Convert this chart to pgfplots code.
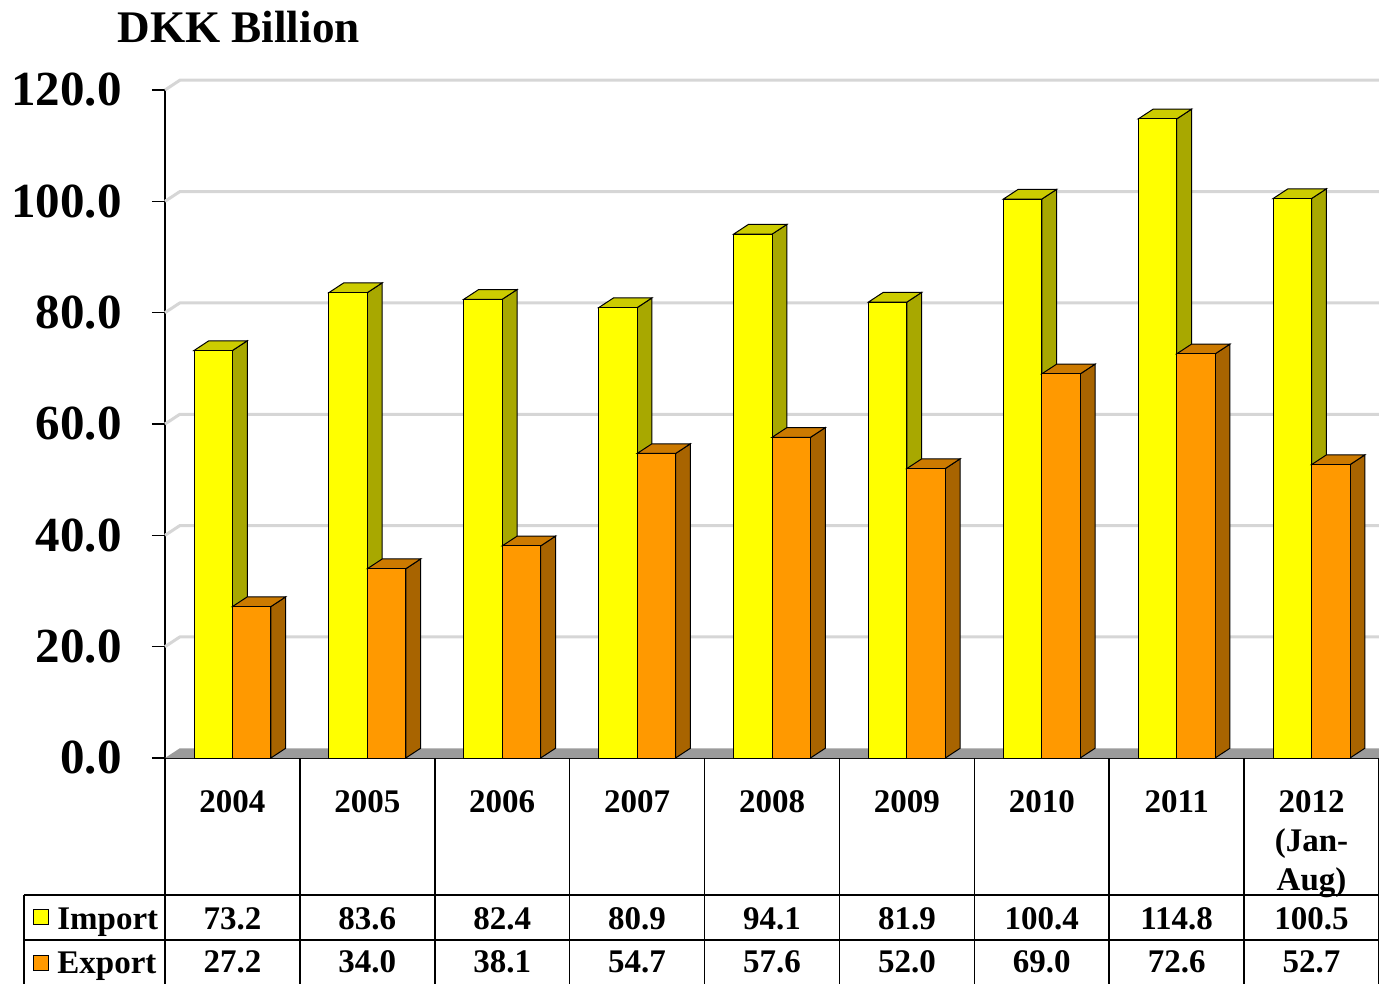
\documentclass[border=0pt]{standalone}
\usepackage{pgfplots}
\usepackage{pgfplotstable}
\pgfplotsset{compat=1.18}
\usepackage{fontspec}
\setmainfont{Liberation Serif}
\definecolor{impfront}{RGB}{255,255,0}
\definecolor{impside}{RGB}{168,168,0}
\definecolor{imptop}{RGB}{204,204,0}
\definecolor{expfront}{RGB}{255,153,0}
\definecolor{expside}{RGB}{168,100,0}
\definecolor{exptop}{RGB}{204,122,0}
\definecolor{floorgray}{RGB}{155,155,155}
\definecolor{gridgray}{RGB}{214,214,214}

\pgfplotstableread{
x imp exp
0 73.2 27.2
1 83.6 34.0
2 82.4 38.1
3 80.9 54.7
4 94.1 57.6
5 81.9 52.0
6 100.4 69.0
7 114.8 72.6
8 100.5 52.7
}\data

\newcommand\tabfont{\fontsize{16.5}{19.5}\selectfont\bfseries}

\begin{document}
\begin{tikzpicture}
\begin{axis}[
  at={(0,0)}, anchor=south west,
  scale only axis, width=607pt, height=334pt,
  xmin=-0.5, xmax=8.5, ymin=0, ymax=120,
  clip=false,
  axis lines*=left,
  axis line style={-, black, line width=0.7pt},
  ytick={0,20,...,120},
  xtick={0,...,8},
  xticklabels={2004,2005,2006,2007,2008,2009,2010,2011,{2012\\(Jan-\\Aug)}},
  tick align=outside,
  major tick length=6.5pt,
  xtick style={draw=none},
  ytick style={black, line width=0.8pt},
  /pgf/number format/fixed,
  /pgf/number format/fixed zerofill,
  /pgf/number format/precision=1,
  /pgf/number format/assume math mode=true,
  yticklabel style={font=\fontsize{24.5}{29}\selectfont\bfseries, anchor=east, inner sep=0pt, xshift=-15pt},
  xticklabel style={font=\tabfont, align=center, anchor=north, inner sep=0pt, yshift=-9.8pt},
]
% floor
\addplot[fill=floorgray, draw=none, mark=none, forget plot] coordinates {(-0.5,0) (8.5,0) (8.5,1.75) (-0.39,1.75)} -- cycle;
% gridlines on back wall
\pgfplotsinvokeforeach{20,40,60,80,100,120}{
  \pgfmathsetmacro\gy{#1+1.75}
  \addplot[gridgray, line width=1.5pt, mark=none, forget plot] coordinates {(-0.5,#1) (-0.39,\gy) (8.5,\gy)};
}
% import bars: side and top faces
\pgfplotsinvokeforeach{0,...,8}{
  \pgfplotstablegetelem{#1}{imp}\of\data
  \let\valI\pgfplotsretval
  \pgfmathsetmacro\vt{\valI+1.75}
  \pgfmathsetmacro\xa{#1}
  \pgfmathsetmacro\xb{#1+0.11}
  \pgfmathsetmacro\xl{#1-0.285}
  \pgfmathsetmacro\xlb{#1-0.175}
  \addplot[fill=impside, draw=black, line width=0.5pt, mark=none, forget plot] coordinates {(\xa,0) (\xb,1.75) (\xb,\vt) (\xa,\valI)} -- cycle;
  \addplot[fill=imptop, draw=black, line width=0.5pt, mark=none, forget plot] coordinates {(\xl,\valI) (\xa,\valI) (\xb,\vt) (\xlb,\vt)} -- cycle;
}
\addplot[ybar, bar width=0.285, bar shift=-0.1425, fill=impfront, draw=black, line width=0.5pt, forget plot] table[x=x, y=imp]{\data};
% export bars: side and top faces
\pgfplotsinvokeforeach{0,...,8}{
  \pgfplotstablegetelem{#1}{exp}\of\data
  \let\valE\pgfplotsretval
  \pgfmathsetmacro\vt{\valE+1.75}
  \pgfmathsetmacro\xa{#1+0.285}
  \pgfmathsetmacro\xb{#1+0.395}
  \pgfmathsetmacro\xl{#1}
  \pgfmathsetmacro\xlb{#1+0.11}
  \addplot[fill=expside, draw=black, line width=0.5pt, mark=none, forget plot] coordinates {(\xa,0) (\xb,1.75) (\xb,\vt) (\xa,\valE)} -- cycle;
  \addplot[fill=exptop, draw=black, line width=0.5pt, mark=none, forget plot] coordinates {(\xl,\valE) (\xa,\valE) (\xb,\vt) (\xlb,\vt)} -- cycle;
}
\addplot[ybar, bar width=0.285, bar shift=0.1425, fill=expfront, draw=black, line width=0.5pt, forget plot] table[x=x, y=exp]{\data};
% table values
\addplot[draw=none, mark=none, forget plot, nodes near coords, point meta=explicit symbolic,
  every node near coord/.append style={anchor=base, inner sep=0pt, font=\tabfont, black}]
  table[x=x, y expr=-30.72, meta=imp]{\data};
\addplot[draw=none, mark=none, forget plot, nodes near coords, point meta=explicit symbolic,
  every node near coord/.append style={anchor=base, inner sep=0pt, font=\tabfont, black}]
  table[x=x, y expr=-38.62, meta=exp]{\data};
\end{axis}
% table grid
\foreach \k in {0,...,9}{
  \draw[black, line width=0.8pt] ({607pt/9*\k},0pt) -- ({607pt/9*\k},-113pt);
}
\draw[black, line width=0.8pt] (-70.5pt,-68.5pt) -- (607pt,-68.5pt);
\draw[black, line width=0.8pt] (-70.5pt,-91pt) -- (607pt,-91pt);
\draw[black, line width=0.8pt] (-70.5pt,-68.5pt) -- (-70.5pt,-113pt);
% legend keys
\node[draw=black, fill=impfront, minimum size=7.5pt, inner sep=0pt, line width=0.5pt] at (-61.75pt,-79.5pt) {};
\node[draw=black, fill=expfront, minimum size=7.5pt, inner sep=0pt, line width=0.5pt] at (-61.75pt,-102.5pt) {};
\node[anchor=base west, inner sep=0pt, font=\tabfont] at (-54pt,-85.5pt) {Import};
\node[anchor=base west, inner sep=0pt, font=\tabfont] at (-54pt,-107.5pt) {Export};
% title
\node[anchor=base west, inner sep=0pt, font=\fontsize{22.6}{27}\selectfont\bfseries] at (-24pt,357.5pt) {DKK Billion};
\pgfresetboundingbox
\useasboundingbox (-82.5pt,-113pt) rectangle (607pt,379pt);
\end{tikzpicture}
\end{document}
